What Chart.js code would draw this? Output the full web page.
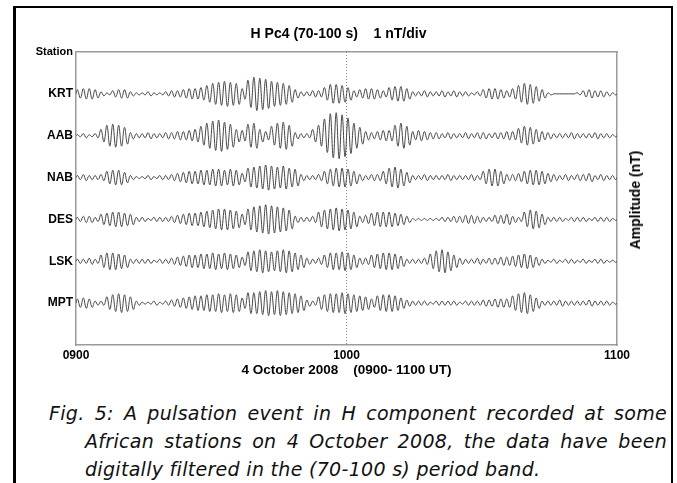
<!DOCTYPE html>
<html>
<head>
<meta charset="utf-8">
<script src="https://cdn.jsdelivr.net/npm/chart.js@4.4.0/dist/chart.umd.min.js"></script>
<style>
body { margin: 0; background: #fff; width: 677px; height: 483px; overflow: hidden; position: relative; }
#frame { position: absolute; left: 13px; top: 6px; width: 655px; height: 490px; border-left: 3px solid #000; border-top: 2px solid #000; border-right: 2px solid #000; }
#chartBox { position: absolute; left: 0; top: 0; width: 677px; height: 378px; }
#amp { position: absolute; left: 635px; top: 200px; transform: translate(-50%, -50%) rotate(-90deg); font: bold 14px "Liberation Sans", Arial, sans-serif; white-space: nowrap; color: #000; }
.cap { position: absolute; font: italic 19px/28px "DejaVu Sans", sans-serif; letter-spacing: 0.3px; color: #111; white-space: nowrap; }
.cap.j { text-align: justify; text-align-last: justify; white-space: normal; }
</style>
</head>
<body>
<div id="frame"></div>
<div id="chartBox"><canvas id="waves" width="677" height="378"></canvas></div>
<div id="amp">Amplitude (nT)</div>
<div class="cap j" style="left:49px; top:399px; width:618px;">Fig. 5: A pulsation event in H component recorded at some</div>
<div class="cap j" style="left:85px; top:427px; width:582px;">African stations on 4 October 2008, the data have been</div>
<div class="cap" style="left:85px; top:455px;">digitally filtered in the (70-100 s) period band.</div>
<script>
//----------------------------Data
var stations = ["KRT", "AAB", "NAB", "DES", "LSK", "MPT"];
var stationOffsets = [24, 20, 16, 12, 8, 4];
var yTickValues = [28, 24, 20, 16, 12, 8, 4];
var yTickLabels = ["Station", "KRT", "AAB", "NAB", "DES", "LSK", "MPT"];
var timeTicks = [0, 60, 120];
var timeLabels = ["0900", "1000", "1100"];

var krt = [4,5,5,4, 2,1, 3,4,4, 2,1,1,2,1,1,2, 3,3,4,5,5,6, 8,10,11,12,11,10, 5, 13,16,15,14,12,11,10,8, 4,2,2,3,3, 6,9,9,8,6, 3,4,5,5,4,3, 6,7,7,5, 2,2,3,2,2,3,2, 3,2,2,1,2, 4,5,5,4,3, 5,8,10,9,7,4, 1,0,0,0,0,1, 3,4,3,3,2, 1];
var aab = [1,2,1,2, 6,10,11,10,8, 3,2,2,3,2,2,3, 3,4,4,5,6, 9,12,14,15,13,11, 6,5, 11,12, 6,4, 9,12,13,10, 3,2,2, 6,10,16,21,22,20,17,12,8, 4,3,4,5,5, 10,12,9, 4,5,4,3,3, 2,3,2,2,3,2,3,3,2,3,3,4,4, 7,9,8,6,4, 3,2,2,2,3,2,2,2,3,2,2,1];
var nab = [2,3,2,2,3, 6,7,7,5, 2,1,1,2,1,2,2, 3,4,5,6,6,7,7,8,8,7,8,7, 4, 9,10,11,12,11,10,11,9,8, 3,2,2,3, 6,8,9,9,8,6, 3,2,3,3, 6,9,10,8,5, 2,2,3,2,2,2,3,2,2,2,3,2, 6,8,8,6, 3,3,4, 6,7,7,6,4, 3,2,3,2,3, 3,4, 2,3,2,2];
var des = [2,3,3,2, 5,6,7,7,6,5, 2,2,1,2,2,2, 3,4,5,6,6,7,8, 9,10,10,9,8, 5, 10,12,13,14,13,12,11,9, 3,2,2,3, 7,9,10,11,10,9,7, 3,4, 6,7,7,7,6,5, 3,1,1,1,1,1,2,2, 3,3,4,4,3, 2,2, 4,4,5,3, 2, 7,9,8,5, 2,2,2,1,2,2,2,1,2,2,2,1];
var lsk = [2,2,3,2, 6,8,8,7,6, 2,2,2,2,1,2,2, 3,4,5,6,6,7,7,8,7,8,7,6, 4, 9,10,11,10,9,10,11,10,8,6, 3,2,3, 6,8,8,9,8,6, 3,3, 6,7,8,8,7,5, 2,2,2,3, 7,10,11,9,6, 3,2,2,3,2,3,3,4,4, 5,6,7,6,4, 2,1,2,1,2,2,1,2,1,2,2,1,1];
var mpt = [4,5,4, 2,2, 6,8,9,8,6, 2,1,1,2,1,2, 3,4,5,6,7,7,8,8,9,8,9,8, 5, 10,10,11,12,11,12,11,10,9,7, 3,2, 6,8,9,9,10,9,8,7,6, 4,7,8,8,7,5, 3,2,2,2,1,2,2,2,2,1,2,2,2,3, 3,4,4,4, 7,9,10,8,5, 2,2,2,3,2,2,2,2,3,2,2,2,1];
var traces = [krt, aab, nab, des, lsk, mpt];

var fam = "'Liberation Sans', Arial, sans-serif";

// one crest and one trough per cycle, around the station baseline
function buildTrace(amps, base) {
    var T = 120 / amps.length;
    var pts = [{x: 0, y: base}];
    amps.forEach(function (a, i) {
        pts.push({x: (i + 0.25) * T, y: base + a / 10});
        pts.push({x: (i + 0.75) * T, y: base - a / 10});
    });
    pts.push({x: 120, y: base});
    return pts;
}

var datasets = stations.map(function (name, i) {
    return {
        label: name,
        data: buildTrace(traces[i], stationOffsets[i]),
        borderColor: "#444",
        borderWidth: 1,
        pointRadius: 0,
        tension: 0.4,
        fill: false
    };
});

var frameBorder = {display: true, color: "#9a9a9a", width: 1.5};

new Chart(document.getElementById("waves"), {
    type: "line",
    data: {datasets: datasets},
    options: {
        responsive: false,
        animation: false,
        layout: {padding: 0},
        plugins: {
            legend: {display: false},
            tooltip: {enabled: false},
            title: {
                display: true,
                text: "H Pc4 (70-100 s)    1 nT/div",
                color: "#000",
                font: {family: fam, size: 14, weight: "bold"},
                padding: {top: 26, bottom: 9.2}
            }
        },
        scales: {
            x: {
                type: "linear",
                position: "bottom",
                min: 0,
                max: 120,
                afterBuildTicks: function (ax) { ax.ticks = timeTicks.map(function (v) { return {value: v}; }); },
                afterFit: function (ax) { ax.height = 33; },
                ticks: {
                    color: "#000",
                    font: {family: fam, size: 12, weight: "bold"},
                    padding: 3,
                    maxRotation: 0,
                    autoSkip: false,
                    callback: function (v) { return timeLabels[timeTicks.indexOf(v)]; }
                },
                grid: {
                    drawTicks: false,
                    lineWidth: 1,
                    color: function (c) { return c.tick && c.tick.value === 60 ? "#8a8a8a" : "rgba(0,0,0,0)"; }
                },
                border: {display: true, color: "#9a9a9a", width: 1.5, dash: [1, 2]},
                title: {
                    display: true,
                    text: "4 October 2008    (0900- 1100 UT)",
                    color: "#000",
                    font: {family: fam, size: 13.5, weight: "bold"},
                    padding: 0
                }
            },
            xTop: {
                type: "linear",
                position: "top",
                min: 0,
                max: 120,
                ticks: {display: false},
                grid: {display: false, drawTicks: false},
                border: frameBorder,
                afterFit: function (ax) { ax.height = 0; }
            },
            y: {
                position: "left",
                min: 0,
                max: 28,
                afterBuildTicks: function (ax) { ax.ticks = yTickValues.map(function (v) { return {value: v}; }); },
                afterFit: function (ax) { ax.width = 76; },
                ticks: {
                    color: "#000",
                    padding: 3,
                    autoSkip: false,
                    font: function (c) {
                        return {family: fam, size: c.tick && c.tick.value === 28 ? 11 : 12, weight: "bold"};
                    },
                    callback: function (v) { return yTickLabels[yTickValues.indexOf(v)]; }
                },
                grid: {display: false, drawTicks: false},
                border: frameBorder
            },
            yRight: {
                position: "right",
                min: 0,
                max: 28,
                ticks: {display: false},
                grid: {display: false, drawTicks: false},
                border: frameBorder,
                afterFit: function (ax) { ax.width = 60; }
            }
        }
    }
});
</script>
</body>
</html>
